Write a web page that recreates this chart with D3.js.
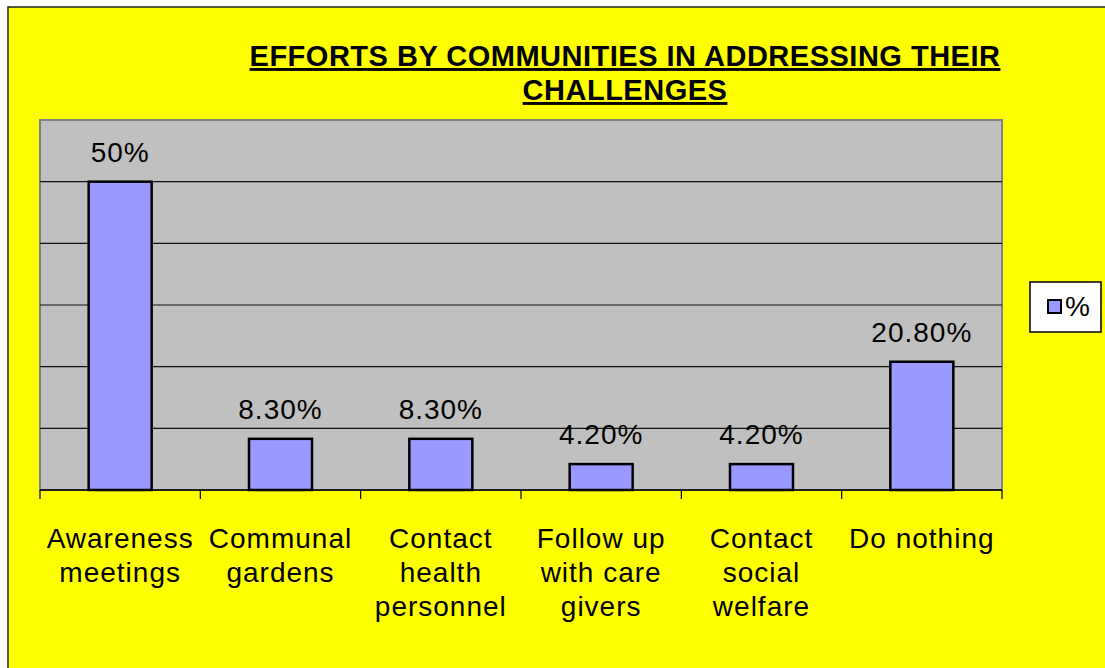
<!DOCTYPE html>
<html>
<head>
<meta charset="utf-8">
<script src="https://cdn.jsdelivr.net/npm/d3@7"></script>
<style>
  body { margin: 0; background: #fff; }
  svg text { font-family: "Liberation Sans", Arial, sans-serif; }
</style>
</head>
<body>
<div id="chart"></div>
<script>
// data
var categories = [
  ["Awareness", "meetings"],
  ["Communal", "gardens"],
  ["Contact", "health", "personnel"],
  ["Follow up", "with care", "givers"],
  ["Contact", "social", "welfare"],
  ["Do nothing"]
];
var values = [50, 8.3, 8.3, 4.2, 4.2, 20.8];
var valueLabels = ["50%", "8.30%", "8.30%", "4.20%", "4.20%", "20.80%"];
var yTicks = [0, 10, 20, 30, 40, 50, 60];
var seriesName = "%";
var titleLines = ["EFFORTS BY COMMUNITIES IN ADDRESSING THEIR", "CHALLENGES"];

var svgWidth = 1105;
var svgHeight = 668;

var plot = { left: 40, right: 1002, top: 120, bottom: 490 };

var svg = d3.select("#chart")
  .append("svg")
  .attr("width", svgWidth)
  .attr("height", svgHeight);

// yellow chart area with border on top/left
svg.append("rect")
  .attr("x", 8).attr("y", 7)
  .attr("width", svgWidth).attr("height", svgHeight)
  .attr("fill", "#ffff00")
  .attr("stroke", "#222")
  .attr("stroke-width", 1.5);

var idx = d3.range(values.length);

var x = d3.scaleBand()
  .domain(idx)
  .range([plot.left, plot.right])
  .paddingInner(0.607)
  .paddingOuter(0.3035);

var y = d3.scaleLinear()
  .domain([0, 60])
  .range([plot.bottom, plot.top]);

// plot background
svg.append("rect")
  .attr("x", plot.left).attr("y", plot.top)
  .attr("width", plot.right - plot.left)
  .attr("height", plot.bottom - plot.top)
  .attr("fill", "#c0c0c0")
  .attr("stroke", "#808080")
  .attr("stroke-width", 2);

// gridlines
svg.append("g")
  .selectAll("line")
  .data(yTicks.slice(1))
  .enter()
  .append("line")
  .attr("x1", plot.left).attr("x2", plot.right)
  .attr("y1", d => y(d)).attr("y2", d => y(d))
  .attr("stroke", d => d === 60 ? "#808080" : "#111")
  .attr("stroke-width", d => d === 60 ? 2 : 1.2);

// bars
svg.append("g")
  .selectAll("rect")
  .data(idx)
  .enter()
  .append("rect")
  .attr("x", i => x(i))
  .attr("y", i => y(values[i]))
  .attr("width", x.bandwidth())
  .attr("height", i => y(0) - y(values[i]))
  .attr("fill", "#9999ff")
  .attr("stroke", "#000")
  .attr("stroke-width", 2.5);

// value labels
svg.append("g")
  .selectAll("text")
  .data(idx)
  .enter()
  .append("text")
  .attr("x", i => x(i) + x.bandwidth() / 2)
  .attr("y", i => y(values[i]) - 20)
  .attr("text-anchor", "middle")
  .style("font-size", "28px")
  .style("letter-spacing", "1px")
  .attr("fill", "#000")
  .text(i => valueLabels[i]);

// x axis line + ticks at category boundaries
svg.append("line")
  .attr("x1", plot.left).attr("x2", plot.right)
  .attr("y1", plot.bottom).attr("y2", plot.bottom)
  .attr("stroke", "#000").attr("stroke-width", 1.5);

var step = x.step();
svg.append("g")
  .selectAll("line")
  .data(d3.range(values.length + 1))
  .enter()
  .append("line")
  .attr("x1", i => plot.left + i * step)
  .attr("x2", i => plot.left + i * step)
  .attr("y1", plot.bottom).attr("y2", plot.bottom + 9)
  .attr("stroke", "#000").attr("stroke-width", 1.2);

// category labels
var catLabels = svg.append("g")
  .selectAll("text")
  .data(idx)
  .enter()
  .append("text")
  .attr("x", i => x(i) + x.bandwidth() / 2)
  .attr("y", 548)
  .attr("text-anchor", "middle")
  .style("font-size", "28px")
  .style("letter-spacing", "1px")
  .attr("fill", "#000");

catLabels.selectAll("tspan")
  .data(i => categories[i].map(t => ({ t: t, c: x(i) + x.bandwidth() / 2 })))
  .enter()
  .append("tspan")
  .attr("x", d => d.c)
  .attr("dy", (d, j) => j === 0 ? 0 : 34)
  .text(d => d.t);

// title
svg.append("g")
  .selectAll("text")
  .data(titleLines)
  .enter()
  .append("text")
  .attr("x", 625)
  .attr("y", (d, i) => 66 + i * 34)
  .attr("text-anchor", "middle")
  .style("font-size", "29px")
  .style("font-weight", "bold")
  .style("letter-spacing", "0.5px")
  .style("text-decoration", "underline")
  .attr("fill", "#000")
  .text(d => d);

// legend
var legend = svg.append("g");
legend.append("rect")
  .attr("x", 1030).attr("y", 282)
  .attr("width", 71).attr("height", 50)
  .attr("fill", "#fff")
  .attr("stroke", "#000")
  .attr("stroke-width", 1.5);
legend.append("rect")
  .attr("x", 1048).attr("y", 300)
  .attr("width", 13).attr("height", 13)
  .attr("fill", "#9999ff")
  .attr("stroke", "#000")
  .attr("stroke-width", 2);
legend.append("text")
  .attr("x", 1065).attr("y", 316)
  .style("font-size", "28px")
  .attr("fill", "#000")
  .text(seriesName);
</script>
</body>
</html>
